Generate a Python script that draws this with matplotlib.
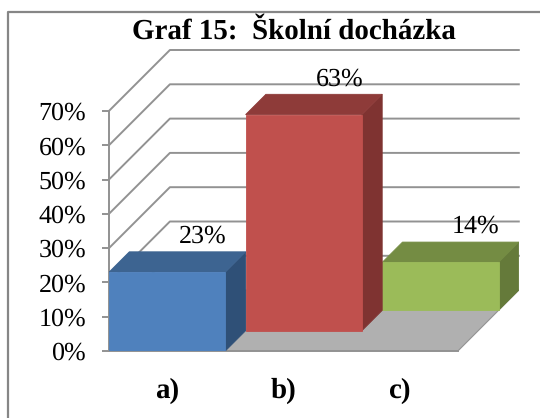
import matplotlib
matplotlib.use('Agg')
import matplotlib.pyplot as plt
from matplotlib.lines import Line2D
from matplotlib.patches import Polygon

plt.rcParams['font.family'] = ['Liberation Serif', 'DejaVu Serif']
plt.rcParams['text.hinting'] = 'none'
plt.rcParams['text.hinting_factor'] = 1

# Data
categories = ['a)', 'b)', 'c)']
values = [23, 63, 14]
value_labels = ['23%', '63%', '14%']
y_ticks = [0, 10, 20, 30, 40, 50, 60, 70]

front_colors = ['#4f81bd', '#c0504d', '#9bbb59']
top_colors = ['#3d6491', '#8e3b39', '#748c43']
side_colors = ['#2f5077', '#7f3331', '#657a3a']
line_gray = '#929292'

W, H = 540, 418
# plot area in pixels, front left corner of the floor is at (109, 351)
X0, Y0 = 109, 351
CAT_PX = 116.3
PCT_PX = 3.43
DEPTH_PX = 20.3
N_DEPTH = 3

# oblique projection: one depth step moves right and up
dx = DEPTH_PX / CAT_PX
dy = DEPTH_PX / PCT_PX


def proj(cat, pct, depth):
    return cat + depth * dx, pct + depth * dy


fig = plt.figure(figsize=(W / 100, H / 100), dpi=100)
fig.patch.set_facecolor('white')

# outer frame of the chart, the right and bottom sides are cut off by the image
fig.add_artist(Line2D([7.5 / W, 7.5 / W, 1], [0, 1 - 11.5 / H, 1 - 11.5 / H],
                      transform=fig.transFigure, color='#868686', lw=1.6))

x_max = 3 + N_DEPTH * dx
y_max = 70 + N_DEPTH * dy
ax = fig.add_axes([X0 / W, 1 - Y0 / H, x_max * CAT_PX / W, y_max * PCT_PX / H])
ax.set_xlim(0, x_max)
ax.set_ylim(0, y_max)
ax.patch.set_alpha(0)

for s in ['top', 'right']:
    ax.spines[s].set_visible(False)
ax.spines['left'].set_bounds(0, 70)
ax.spines['bottom'].set_bounds(0, 3)
ax.spines['left'].set_color(line_gray)
ax.spines['bottom'].set_color(line_gray)
ax.spines['left'].set_linewidth(1.4)
ax.spines['bottom'].set_linewidth(1.4)

ax.set_yticks(y_ticks)
ax.set_yticklabels([f'{v}%' for v in y_ticks], fontsize=18.5)
ax.tick_params(axis='y', length=5, width=1.4, color=line_gray, pad=11.5)
ax.set_xticks([0.5, 1.5, 2.5])
ax.set_xticklabels(categories, fontsize=21, fontweight='bold')
ax.tick_params(axis='x', length=0, pad=19)

# floor
floor = [proj(0, 0, 0), proj(3, 0, 0), proj(3, 0, N_DEPTH), proj(0, 0, N_DEPTH)]
ax.add_patch(Polygon(floor, closed=True, fc='#b0b0b0', ec=line_gray, lw=0.8, zorder=1))

# gridlines run over the left wall and then along the back wall
for v in y_ticks[1:]:
    pts = [proj(0, v, 0), proj(0, v, N_DEPTH), proj(3, v, N_DEPTH)]
    ax.plot([p[0] for p in pts], [p[1] for p in pts], color=line_gray, lw=1.4, zorder=1,
            clip_on=False)

# bars, one per depth row, back to front
for i in range(len(values) - 1, -1, -1):
    v = values[i]
    left, right = i, i + 1
    d0, d1 = i, i + 1
    front = [proj(left, 0, d0), proj(right, 0, d0), proj(right, v, d0), proj(left, v, d0)]
    top = [proj(left, v, d0), proj(right, v, d0), proj(right, v, d1), proj(left, v, d1)]
    side = [proj(right, 0, d0), proj(right, 0, d1), proj(right, v, d1), proj(right, v, d0)]
    z = 5 + (len(values) - i)
    ax.add_patch(Polygon(side, closed=True, fc=side_colors[i], ec=side_colors[i], lw=0.6, zorder=z))
    ax.add_patch(Polygon(top, closed=True, fc=top_colors[i], ec=top_colors[i], lw=0.6, zorder=z))
    ax.add_patch(Polygon(front, closed=True, fc=front_colors[i], ec=front_colors[i], lw=0.6, zorder=z))
    lx, ly = proj(i + 0.5, v, d0 + 1.75)
    ax.text(lx, ly, value_labels[i], ha='center', va='center', fontsize=18.5, color='black',
            zorder=20, clip_on=False)

fig.text(293.5 / W, 1 - 32 / H, 'Graf 15:  Školní docházka', ha='center', va='center',
         fontsize=21, fontweight='bold')

fig.savefig('out.png', dpi=100)
